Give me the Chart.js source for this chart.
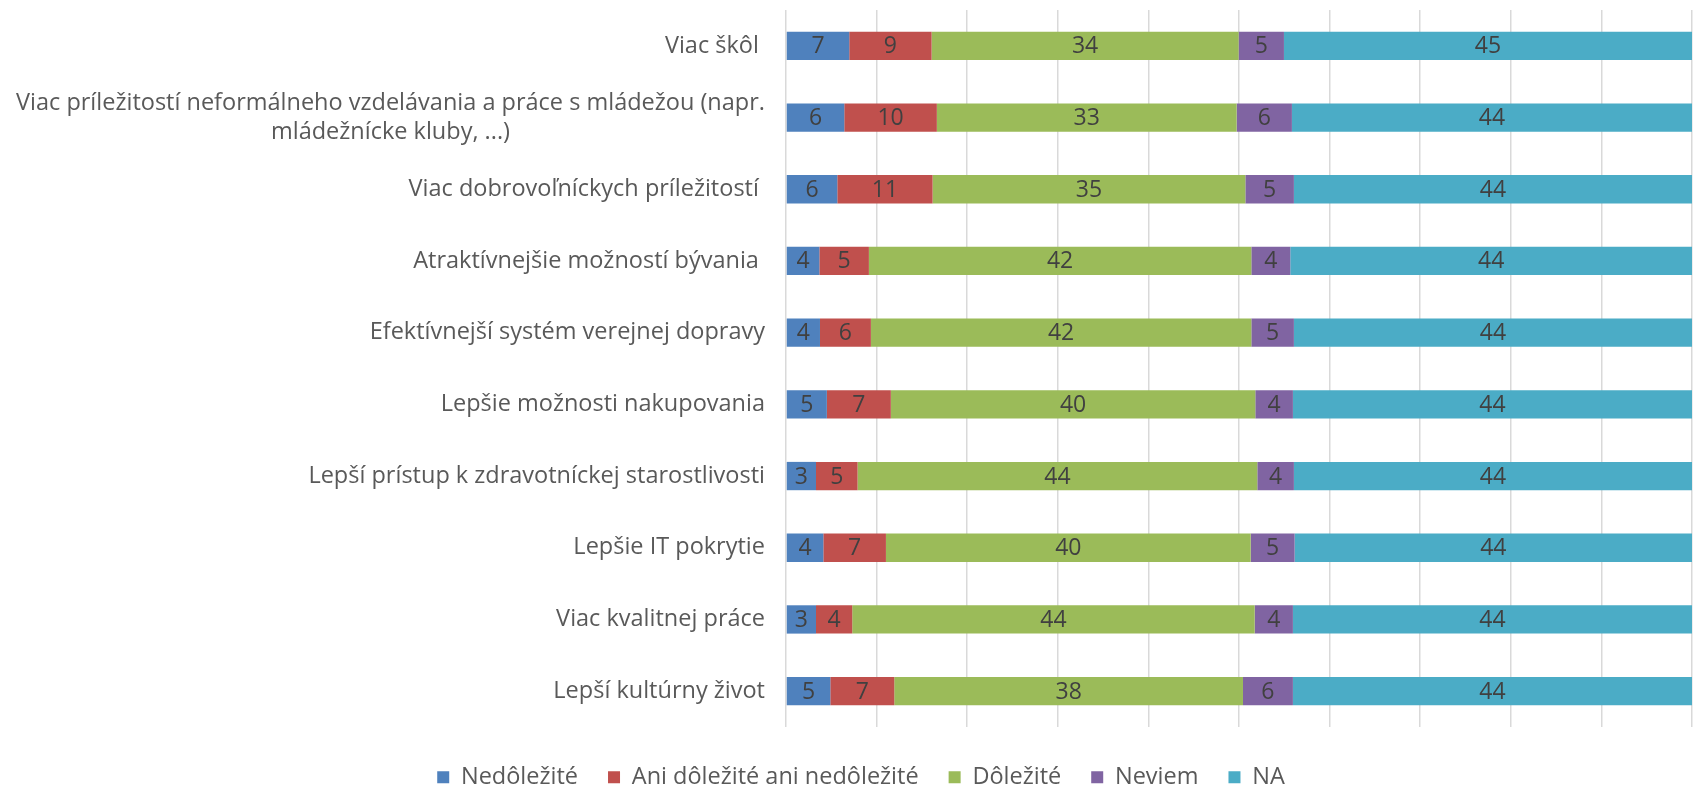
<!DOCTYPE html>
<html>
<head>
<meta charset="utf-8">
<script src="https://cdn.jsdelivr.net/npm/chart.js@4/dist/chart.umd.min.js"></script>
<style>
  html, body { margin: 0; padding: 0; background: #fff; overflow: hidden; }
  #wrap { width: 1696px; height: 791px; position: relative; }
</style>
</head>
<body>
<div id="wrap"><canvas id="chart"></canvas></div>
<script>
// categories, one array of lines per bar
const categories = [
  ["Viac škôl "],
  ["Viac príležitostí neformálneho vzdelávania a práce s mládežou (napr.", "mládežnícke kluby, ...)"],
  ["Viac dobrovoľníckych príležitostí "],
  ["Atraktívnejšie možností bývania "],
  ["Efektívnejší systém verejnej dopravy"],
  ["Lepšie možnosti nakupovania"],
  ["Lepší prístup k zdravotníckej starostlivosti"],
  ["Lepšie IT pokrytie"],
  ["Viac kvalitnej práce"],
  ["Lepší kultúrny život"]
];

const seriesNames = ["Nedôležité", "Ani dôležité ani nedôležité", "Dôležité", "Neviem", "NA"];

// shares in %
const nedolezite = [6.98, 6.43, 5.66, 3.68, 3.75, 4.51, 3.31, 4.12, 3.31, 4.89];
const aniAni     = [9.09, 10.22, 10.52, 5.47, 5.62, 7.06, 4.59, 6.91, 4.00, 7.06];
const dolezite   = [33.89, 33.09, 34.52, 42.21, 41.99, 40.23, 44.12, 40.26, 44.42, 38.49];
const neviem     = [5.00, 6.10, 5.36, 4.30, 4.70, 4.15, 4.04, 4.85, 4.22, 5.51];
const na         = [45.04, 44.16, 43.94, 44.34, 43.94, 44.05, 43.94, 43.86, 44.05, 44.05];

const colors = ["#4F81BD", "#C0504D", "#9BBB59", "#8064A2", "#4BACC6"];

const FONT = "'Open Sans'";
Chart.defaults.font.family = FONT;
Chart.defaults.color = "#595959";

// numbers in the middle of each segment
const barLabels = {
  id: "barLabels",
  afterDatasetsDraw(chart) {
    const ctx = chart.ctx;
    ctx.save();
    ctx.font = "23px " + FONT;
    ctx.fillStyle = "#404040";
    ctx.textAlign = "center";
    ctx.textBaseline = "middle";
    chart.data.datasets.forEach((ds, di) => {
      const meta = chart.getDatasetMeta(di);
      meta.data.forEach((bar, i) => {
        const p = bar.getProps(["x", "base", "y"], true);
        ctx.fillText(Math.round(ds.data[i]), (p.x + p.base) / 2, p.y + 1);
      });
    });
    ctx.restore();
  }
};

// category labels: right aligned block, lines centered inside it (like Excel)
const catLabels = {
  id: "catLabels",
  afterDraw(chart) {
    const ctx = chart.ctx;
    const yScale = chart.scales.y;
    const right = chart.chartArea.left - 21;
    const lineH = 29;
    ctx.save();
    ctx.font = "23.5px " + FONT;
    ctx.fillStyle = "#595959";
    ctx.textAlign = "center";
    ctx.textBaseline = "middle";
    categories.forEach((lines, i) => {
      const yc = yScale.getPixelForValue(i);
      const maxW = Math.max(...lines.map(l => ctx.measureText(l).width));
      const cx = right - maxW / 2;
      const top = yc - (lines.length - 1) * lineH / 2;
      lines.forEach((l, k) => ctx.fillText(l, cx, top + k * lineH));
    });
    ctx.restore();
  }
};

const seriesData = [nedolezite, aniAni, dolezite, neviem, na];

new Chart(document.getElementById("chart"), {
  type: "bar",
  data: {
    labels: categories.map(c => c.join(" ")),
    datasets: seriesData.map((d, i) => ({
      label: seriesNames[i],
      data: d,
      backgroundColor: colors[i],
      borderWidth: 0,
      barPercentage: 0.395,
      categoryPercentage: 1
    }))
  },
  options: {
    indexAxis: "y",
    responsive: true,
    maintainAspectRatio: false,
    animation: false,
    layout: { padding: { left: 30, right: 4, top: 10, bottom: -8 } },
    scales: {
      x: {
        stacked: true,
        min: 0,
        max: 100,
        ticks: { display: false, stepSize: 10 },
        grid: { color: "#D9D9D9", lineWidth: 1.5, drawTicks: false },
        border: { display: false },
        afterFit(scale) { scale.height = 8.5; }
      },
      y: {
        stacked: true,
        ticks: { display: false },
        grid: { display: false, drawTicks: false },
        border: { display: false },
        afterFit(scale) { scale.width = 756; }
      }
    },
    plugins: {
      legend: {
        position: "bottom",
        labels: {
          boxWidth: 12,
          boxHeight: 12,
          padding: 30,
          color: "#595959",
          font: { size: 23.5 }
        }
      },
      tooltip: { enabled: false }
    }
  },
  plugins: [barLabels, catLabels]
});
</script>
</body>
</html>
